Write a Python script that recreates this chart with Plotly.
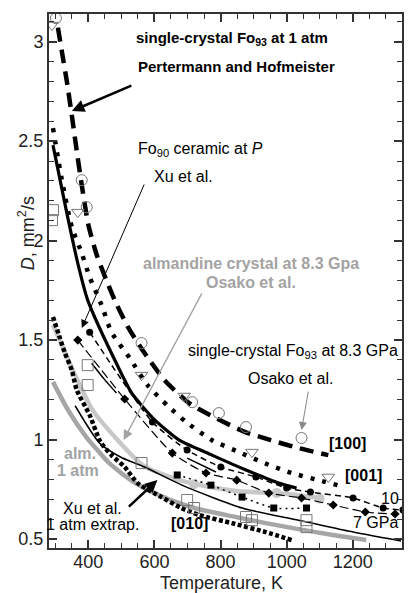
import plotly.graph_objects as go

# ---------------- data ----------------
# Pertermann & Hofmeister, single-crystal Fo93 at 1 atm
p100_T = [308, 320, 335, 350, 365, 380, 400, 425, 450, 480, 520, 570, 630, 705, 786, 871, 952, 1036, 1126]
p100_D = [3.07, 2.95, 2.80, 2.63, 2.45, 2.28, 2.08, 1.93, 1.82, 1.70, 1.565, 1.435, 1.30, 1.183, 1.108, 1.04, 0.997, 0.957, 0.922]
p001_T = [293, 320, 350, 380, 404, 440, 470, 525, 579, 640, 696, 774, 856, 935, 1015, 1096, 1177]
p001_D = [2.565, 2.304, 2.068, 1.937, 1.817, 1.676, 1.540, 1.41, 1.274, 1.17, 1.088, 0.997, 0.937, 0.88, 0.832, 0.796, 0.761]
p010_T = [293, 314, 329, 350, 365, 404, 437, 470, 510, 549, 621, 681, 735, 834, 937, 1015]
p010_D = [1.616, 1.51, 1.435, 1.349, 1.249, 1.123, 0.987, 0.922, 0.862, 0.781, 0.711, 0.656, 0.621, 0.58, 0.535, 0.495]

# Xu et al. Fo90 ceramic at P (fit) and 1 atm extrapolation
xfit_T = [293, 335, 368, 398, 419, 480, 531, 600, 675, 774, 877, 976, 1030]
xfit_D = [2.48, 2.138, 1.887, 1.701, 1.616, 1.40, 1.234, 1.10, 0.997, 0.922, 0.847, 0.781, 0.756]
xatm_T = [360, 434, 500, 570, 690, 865, 1036, 1186, 1346]
xatm_D = [1.17, 0.982, 0.91, 0.862, 0.766, 0.656, 0.595, 0.54, 0.49]

# Xu et al. measured points at pressure
xu10_T = [404, 594, 699, 801, 907, 1000, 1072, 1201, 1292, 1352]
xu10_D = [1.54, 1.088, 0.947, 0.862, 0.812, 0.756, 0.736, 0.706, 0.656, 0.646]
xu7_T = [368, 510, 654, 756, 849, 946, 1045, 1141, 1238, 1328]
xu7_D = [1.50, 1.204, 0.932, 0.832, 0.796, 0.731, 0.706, 0.671, 0.636, 0.626]
xusq_T = [669, 771, 865, 961, 1060]
xusq_D = [0.822, 0.771, 0.711, 0.656, 0.656]
xuseg_T = [410, 450, 485, None, 699, 786]
xuseg_D = [1.384, 1.30, 1.234, None, 0.907, 0.837]

# almandine (Osako et al.) 8.3 GPa and 1 atm
alm_T = [293, 323, 353, 413, 489, 564, 651, 714, 790, 856, 976, 1036, 1105]
alm_D = [1.575, 1.465, 1.349, 1.148, 0.997, 0.872, 0.81, 0.78, 0.755, 0.74, 0.73, 0.72, 0.705]
almpt_T = [720, 970, 1100]
almpt_D = [0.775, 0.731, 0.703]
alm1_T = [293, 338, 395, 434, 464, 534, 615, 684, 735, 834, 937, 1036, 1140, 1241]
alm1_D = [1.29, 1.15, 1.01, 0.935, 0.88, 0.79, 0.72, 0.675, 0.65, 0.615, 0.58, 0.55, 0.52, 0.495]

# Osako et al. single-crystal Fo93 at 8.3 GPa
o100_T = [302, 380, 395, 561, 714, 795, 877, 1045]
o100_D = [3.118, 2.304, 2.168, 1.485, 1.188, 1.133, 1.063, 1.008]
o001_T = [290, 368, 561, 690, 895, 1126]
o001_D = [3.083, 2.143, 1.324, 1.219, 0.937, 0.812]
o010_T = [293, 290, 398, 398, 561, 699, 720, 877, 895, 1060, 1060]
o010_D = [2.153, 2.103, 1.374, 1.274, 0.882, 0.696, 0.656, 0.611, 0.595, 0.595, 0.56]

x_range = [281, 1349]
y_range = [0.455, 3.139]
x_ticks = [400, 600, 800, 1000, 1200]
y_ticks = [0.5, 1, 1.5, 2, 2.5, 3]

FONT = "Liberation Sans, Arial, sans-serif"
LGRAY = "#c8c8c8"
MGRAY = "#a6a6a6"
TGRAY = "#a3a3a3"

fig = go.Figure()

def line(x, y, color="black", width=2, dash="solid", mode="lines", marker=None):
    kw = dict(x=x, y=y, mode=mode, showlegend=False, hoverinfo="skip",
              line=dict(color=color, width=width, dash=dash, shape="spline", smoothing=0.6),
              connectgaps=False)
    if marker:
        kw["marker"] = marker
    fig.add_trace(go.Scatter(**kw))

# gray (almandine) curves
line(alm1_T, alm1_D, color=MGRAY, width=4.5)
line(alm_T, alm_D, color=LGRAY, width=4.5)
fig.add_trace(go.Scatter(x=almpt_T, y=almpt_D, mode="markers", showlegend=False, hoverinfo="skip",
                         marker=dict(color=LGRAY, size=10, symbol="circle")))

# Pertermann & Hofmeister
line(p100_T, p100_D, width=4.5, dash="14px,8px")
line(p001_T, p001_D, width=4.5, dash="4px,8px")
line(p010_T, p010_D, width=4.5, dash="4px,2.5px")

# Xu et al.
line(xfit_T, xfit_D, width=3.2)
line(xatm_T, xatm_D, width=1.5)
line(xuseg_T, xuseg_D, width=1.5)
line(xu10_T, xu10_D, width=1.5, dash="6px,4px", mode="lines+markers",
     marker=dict(color="black", size=7, symbol="circle"))
line(xu7_T, xu7_D, width=1.2, dash="9px,4px", mode="lines+markers",
     marker=dict(color="black", size=7, symbol="diamond"))
line(xusq_T, xusq_D, width=1.5, dash="2px,4px", mode="lines+markers",
     marker=dict(color="black", size=7, symbol="square"))

# Osako et al. open symbols
for xs, ys, sym in [(o100_T, o100_D, "circle-open"), (o001_T, o001_D, "triangle-down-open"),
                    (o010_T, o010_D, "square-open")]:
    fig.add_trace(go.Scatter(x=xs, y=ys, mode="markers", showlegend=False, hoverinfo="skip",
                             marker=dict(symbol=sym, size=11, color="#777777", line=dict(width=1, color="#777777"))))

# --------------- annotations (pixel placed) ---------------
L, R, T, B = 49, 404, 14, 548
def P(px, py):
    return (px - L) / (R - L), (B - py) / (B - T)

def text(s, px, py, size=16, color="black"):
    x, y = P(px, py)
    fig.add_annotation(x=x, y=y, xref="paper", yref="paper", text=s, showarrow=False,
                       font=dict(family=FONT, size=size, color=color), xanchor="center", yanchor="middle")

def arrow(tx, ty, hx, hy, color="black", width=1, head=2, size=1.0):
    x, y = P(hx, hy)
    fig.add_annotation(x=x, y=y, xref="paper", yref="paper", text="", showarrow=True,
                       ax=tx - hx, ay=ty - hy, arrowcolor=color, arrowwidth=width,
                       arrowhead=head, arrowsize=size)

text("<b>single-crystal Fo<sub>93</sub> at 1 atm</b>", 233, 38, 15)
text("<b>Pertermann and Hofmeister</b>", 238, 66, 15)
arrow(133, 85, 72, 111, width=2.5, head=2, size=1.0)

text("Fo<sub>90</sub> ceramic at <i>P</i>", 201, 150, 16)
text("Xu et al.", 184, 177, 16)
arrow(145, 183, 82, 328, width=1, head=2, size=1.6)

text("<b>almandine crystal at 8.3 Gpa</b>", 252, 263, 16, TGRAY)
text("<b>Osako et al.</b>", 252, 282, 16, TGRAY)
arrow(203, 292, 124, 440, color=TGRAY, width=1.5, head=2, size=1.3)

text("single-crystal Fo<sub>93</sub> at 8.3 GPa", 294, 351, 16)
text("Osako et al.", 292, 378, 16)
arrow(310, 390, 303, 430, color="#888888", width=1, head=2, size=1.6)

text("<b>[100]</b>", 349, 443, 16)
text("<b>[001]</b>", 365, 475, 16)
text("<b>[010]</b>", 190, 523, 16)
text("10", 392, 498, 16)
text("7 GPa", 377, 522, 16)

text("<b>alm.</b>", 80, 453, 16, TGRAY)
text("<b>1 atm</b>", 78, 470, 16, TGRAY)
text("Xu et al.", 93, 508, 16)
text("1 atm extrap.", 93, 524, 16)
arrow(128, 508, 158, 480, width=2.5, head=2, size=1.0)

# axis titles
tx, ty = P(26, 233)
fig.add_annotation(x=tx, y=ty, xref="paper", yref="paper", text="<i>D</i>, mm<sup>2</sup>/s",
                   showarrow=False, textangle=-90, font=dict(family=FONT, size=18, color="#222"),
                   xanchor="center", yanchor="middle")
tx, ty = P(222, 583)
fig.add_annotation(x=tx, y=ty, xref="paper", yref="paper", text="Temperature, K",
                   showarrow=False, font=dict(family=FONT, size=18, color="#222"),
                   xanchor="center", yanchor="middle")

axis_common = dict(showline=True, linecolor="#333", linewidth=2, mirror="ticks", ticks="inside",
                   ticklen=8, tickwidth=1.5, tickcolor="#333", showgrid=False, zeroline=False,
                   tickfont=dict(family=FONT, size=18, color="#222"))
fig.update_xaxes(range=x_range, tickvals=x_ticks, ticklabelstandoff=-4,
                 minor=dict(ticks="inside", ticklen=5, tickwidth=1.2, tickcolor="#333", dtick=50, tick0=0, showgrid=False),
                 **axis_common)
fig.update_yaxes(range=y_range, tickvals=y_ticks,
                 minor=dict(ticks="inside", ticklen=5, tickwidth=1.2, tickcolor="#333", dtick=0.1, tick0=0, showgrid=False),
                 **axis_common)

fig.update_layout(width=409, height=593, margin=dict(l=L, r=409 - R, t=T, b=593 - B),
                  paper_bgcolor="white", plot_bgcolor="white", font=dict(family=FONT))

# remove the page's default 8px body margin so the figure sits at the window origin
fig.write_html("out.html", config={"displayModeBar": False},
               post_script="document.body.style.margin='0';document.body.style.overflow='hidden';")
